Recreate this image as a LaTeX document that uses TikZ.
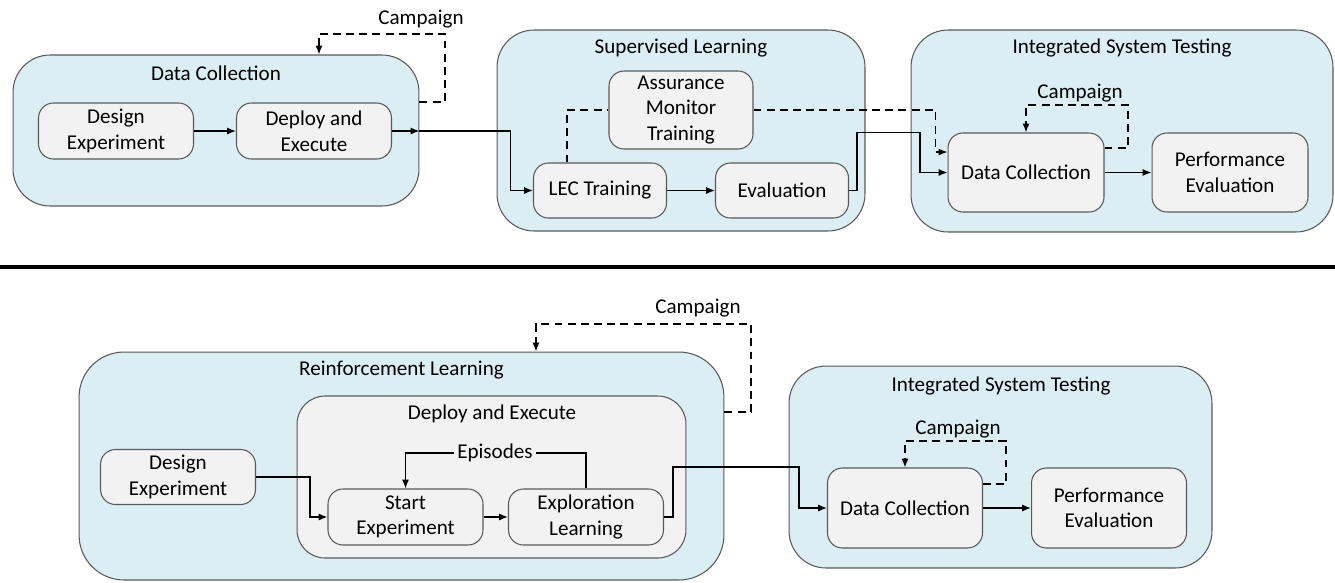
\documentclass[tikz,border=0pt]{standalone}
\usepackage{fontspec}
\setmainfont{Carlito}
\usetikzlibrary{positioning,arrows.meta}
\definecolor{groupblue}{HTML}{DAEEF3}
\definecolor{taskgray}{HTML}{F2F2F2}
\definecolor{edgegray}{HTML}{595959}
\tikzset{group box/.style={draw=edgegray,fill=groupblue,rounded corners=0.74cm,line width=0.6pt,inner sep=0pt},
	task/.style={draw=edgegray,fill=taskgray,rounded corners=0.3cm,align=center,line width=0.6pt,
		minimum width=3.1cm,minimum height=1.12cm,inner sep=2pt,font=\fontsize{12}{14.6}\selectfont},
	group title/.style={anchor=base,inner sep=0pt,font=\fontsize{12}{14.6}\selectfont},
	label text/.style={group title},
	arrow line/.style={line width=0.8pt,-{Latex[length=5pt,width=4pt]}},
	dashed line/.style={line width=0.8pt,dash pattern=on 4.5pt off 3pt},
	dashed arrow/.style={arrow line,dash pattern=on 4.5pt off 3pt},
}

\begin{document}
\begin{tikzpicture}[x=0.02cm,y=-0.02cm]
	\useasboundingbox (0,0) rectangle (1335,582);
	% supervised learning flow
	\node[group box,minimum width=8.12cm,minimum height=3.02cm] (dcgrp) at (216,130.5) {};
	\node[group title] (dctitle) at (216,80) {Data Collection};
	\node[task] (design1) at (116,131) {Design\\Experiment};
	\node[task] (deploy1) at (314,131) {Deploy and\\Execute};
	
	\node[group box,minimum width=7.36cm,minimum height=4.02cm] (slgrp) at (681,130.5) {};
	\node[group title] (sltitle) at (681,53) {Supervised Learning};
	\node[task,minimum width=2.88cm,minimum height=1.56cm] (amt) at (681,110) {Assurance\\Monitor\\Training};
	\node[task,minimum width=2.66cm,minimum height=1.1cm] (lec) at (600,190.5) {LEC Training};
	\node[task,minimum width=2.66cm,minimum height=1.1cm] (eval1) at (782,190.5) {Evaluation};
	
	\node[group box,minimum width=8.44cm,minimum height=4.04cm] (istgrp1) at (1122,131) {};
	\node[group title] (isttitle1) at (1122,53) {Integrated System Testing};
	\node[task,minimum width=3.12cm,minimum height=1.58cm] (dc1) at (1026,172.5) {Data Collection};
	\node[task,minimum width=3.12cm,minimum height=1.58cm] (pe1) at (1230,172.5) {Performance\\Evaluation};
	
	\node[label text] (camp1) at (421,24) {Campaign};
	\node[label text] (camp2) at (1080,98) {Campaign};
	
	\draw[arrow line] (design1) -- (deploy1);
	\draw[arrow line] (deploy1.east) -- (dcgrp.east |- deploy1.east);
	\draw[arrow line] (dcgrp.east |- deploy1.east) -- ++(91,0) |- (lec.west);
	\draw[dashed arrow] ([yshift=0.57cm]dcgrp.east) -| (445,34) -| ([xshift=2.06cm]dcgrp.north);
	\draw[dashed line] ([xshift=-0.66cm]lec.north) |- (amt.west);
	\draw[dashed arrow] (amt.east) -- ++(182,0) |- ([yshift=0.41cm]dc1.west);
	\draw[arrow line] (lec) -- (eval1);
	\draw[arrow line] (eval1.east) -- ++(8,0) |- ++(63,-58) |- (dc1.west);
	\draw[arrow line] (dc1) -- (pe1);
	\draw[dashed arrow] ([yshift=0.49cm]dc1.east) -| (1128,105) -| (dc1.north);
	
	\draw[line width=1.8pt] (0,267) -- (1335,267);
	
	% reinforcement learning flow
	\node[group box,rounded corners=0.9cm,minimum width=12.9cm,minimum height=4.56cm] (rlgrp) at (401.5,466) {};
	\node[group title] (rltitle) at (401.5,375) {Reinforcement Learning};
	\node[group box,fill=taskgray,rounded corners=0.56cm,minimum width=7.78cm,minimum height=3.24cm] (degrp) at (491.5,477) {};
	\node[group title] (detitle) at (492,419) {Deploy and Execute};
	\node[task,minimum height=1.1cm] (design2) at (178,477) {Design\\Experiment};
	\node[task] (start) at (405.5,517) {Start\\Experiment};
	\node[task] (explore) at (586,517) {Exploration\\Learning};
	\node[label text,anchor=center,inner sep=1.5pt] (episodes) at (495,453) {Episodes};
	
	\node[group box,minimum width=8.46cm,minimum height=4.04cm] (istgrp2) at (1000.5,467) {};
	\node[group title] (isttitle2) at (1001,391) {Integrated System Testing};
	\node[task,minimum height=1.6cm] (dc2) at (905,508) {Data Collection};
	\node[task,minimum height=1.6cm] (pe2) at (1109,508) {Performance\\Evaluation};
	
	\node[label text] (camp3) at (698,313) {Campaign};
	\node[label text] (camp4) at (958,434) {Campaign};
	
	\draw[arrow line] (design2.east) -- ++(54,0) |- (start.west);
	\draw[arrow line] (start) -- (explore);
	\draw[line width=0.8pt] (explore.north) |- (episodes.east);
	\draw[arrow line] (episodes.west) -| (start.north);
	\draw[arrow line] (explore.east) -- ++(9,0) |- ++(126,-50) |- (dc2.west);
	\draw[dashed arrow] ([yshift=1.08cm]rlgrp.east) -| (751,324) -| ([xshift=2.69cm]rlgrp.north);
	\draw[arrow line] (dc2) -- (pe2);
	\draw[dashed arrow] ([yshift=0.48cm]dc2.east) -| (1006,441) -| (dc2.north);
\end{tikzpicture}
\end{document}
